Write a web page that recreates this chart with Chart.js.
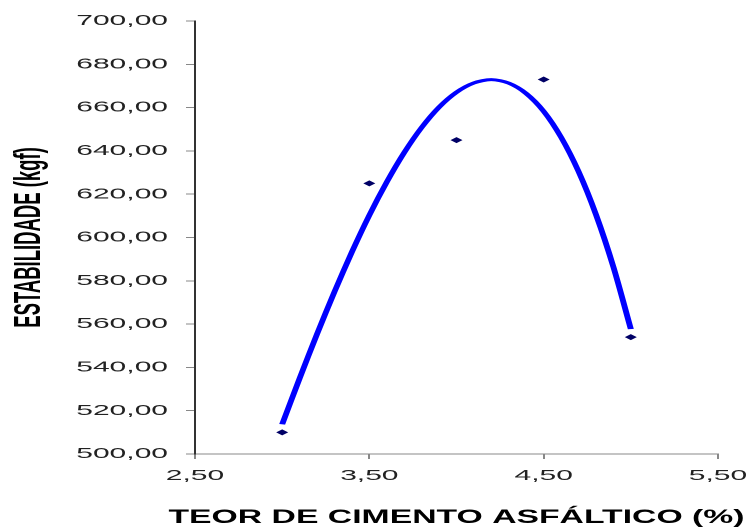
<!DOCTYPE html>
<html lang="pt">

<head>
  <meta charset="UTF-8">
  <title>Estabilidade x Teor de cimento asfáltico</title>
  <script src="https://cdn.jsdelivr.net/npm/chart.js"></script>
  <style>
    html, body { margin: 0; padding: 0; background: #fff; overflow: hidden; }
    /* o grafico original foi esticado na horizontal: desenha em 375px e estica 2x */
    #caixa {
      width: 375px;
      height: 529px;
      transform: scaleX(2);
      transform-origin: 0 0;
    }
  </style>
</head>

<body>
  <div id="caixa">
    <canvas id="graficoEstabilidade"></canvas>
  </div>

  <script>
    // pontos medidos
    const teores = [3.0, 3.5, 4.0, 4.5, 5.0];
    const estabilidades = [510, 625, 645, 673, 554];

    // linha de tendencia
    const teoresTendencia = [3.0, 3.1, 3.2, 3.3, 3.4, 3.5, 3.6, 3.7, 3.8, 3.9, 4.0,
      4.1, 4.2, 4.3, 4.4, 4.5, 4.6, 4.7, 4.8, 4.9, 5.0];
    const valoresTendencia = [513.7, 534.9, 555.4, 574.9, 593.3, 610.3, 625.6, 639.2, 650.8, 660.2, 667.1,
      671.4, 672.9, 671.3, 666.5, 658.3, 646.3, 630.5, 610.6, 586.4, 557.7];

    // eixos
    const ticksX = [2.5, 3.5, 4.5, 5.5];
    const limitesY = [500, 700];
    const passoY = 20;
    const tituloX = 'TEOR DE CIMENTO ASFÁLTICO (%)';
    const tituloY = 'ESTABILIDADE (kgf)';

    const virgula = v => Number(v).toFixed(2).replace('.', ',');
    const fonte = '"Liberation Sans", Arial, sans-serif';

    const pontos = teores.map((x, i) => ({ x: x, y: estabilidades[i] }));
    const tendencia = teoresTendencia.map((x, i) => ({ x: x, y: valoresTendencia[i] }));

    // titulo do eixo x desenhado a mao: o do Chart.js fica preso na largura da area
    const tituloEixoX = {
      id: 'tituloEixoX',
      afterDraw(chart) {
        const { ctx, chartArea } = chart;
        ctx.save();
        ctx.font = 'bold 19px ' + fonte;
        ctx.fillStyle = '#000';
        ctx.textAlign = 'center';
        ctx.textBaseline = 'middle';
        ctx.fillText(tituloX, (chartArea.left + chartArea.right) / 2, 518, 288);
        ctx.restore();
      }
    };

    const ctx = document.getElementById('graficoEstabilidade').getContext('2d');
    new Chart(ctx, {
      type: 'scatter',
      data: {
        datasets: [
          {
            label: 'Tendência',
            data: tendencia,
            showLine: true,
            borderColor: '#0000ff',
            borderWidth: 3,
            pointRadius: 0,
            tension: 0.3,
            fill: false,
            order: 2
          },
          {
            label: 'Estabilidade',
            data: pontos,
            pointStyle: 'rectRot',
            pointRadius: 3,
            backgroundColor: '#000066',
            borderColor: '#000066',
            borderWidth: 0,
            order: 1
          }
        ]
      },
      options: {
        responsive: true,
        maintainAspectRatio: false,
        devicePixelRatio: 2,
        animation: false,
        layout: { padding: { top: 21, right: 16, bottom: 0, left: 0 } },
        plugins: {
          legend: { display: false },
          tooltip: { enabled: false }
        },
        scales: {
          x: {
            type: 'linear',
            min: ticksX[0],
            max: ticksX[ticksX.length - 1],
            afterBuildTicks: s => { s.ticks = ticksX.map(v => ({ value: v })); },
            afterFit: s => { s.height = 75; s.paddingLeft = 0; s.paddingRight = 0; },
            grid: { display: true, drawOnChartArea: false, drawTicks: true, tickLength: 5, color: '#888' },
            border: { display: true, color: '#888', width: 1 },
            ticks: {
              callback: v => virgula(v),
              color: '#222',
              padding: 8,
              maxRotation: 0,
              font: { family: fonte, size: 15 }
            },
            title: { display: false }
          },
          y: {
            min: limitesY[0],
            max: limitesY[1],
            afterFit: s => { s.width = 97.5; },
            grid: { display: true, drawOnChartArea: false, drawTicks: true, tickLength: 4.5, color: '#888' },
            border: { display: true, color: '#333', width: 1 },
            ticks: {
              stepSize: passoY,
              callback: v => virgula(v),
              color: '#222',
              padding: 9,
              font: { family: fonte, size: 15 }
            },
            title: {
              display: true,
              text: tituloY,
              color: '#000',
              padding: { top: 4, bottom: 0 },
              font: { family: fonte, size: 18.5, weight: 'bold' }
            }
          }
        }
      },
      plugins: [tituloEixoX]
    });
  </script>
</body>

</html>
